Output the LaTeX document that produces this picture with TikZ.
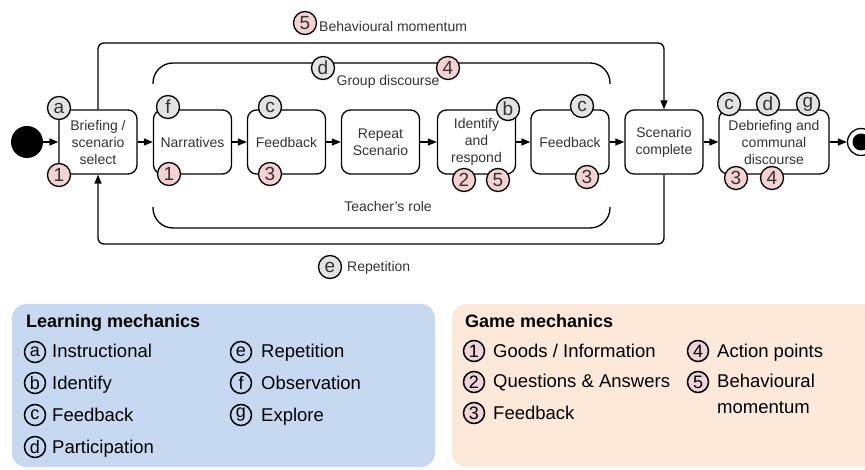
\documentclass[tikz,border=0pt]{standalone}
\usepackage{fontspec}
\setmainfont{Liberation Sans}
\usetikzlibrary{arrows.meta}
\definecolor{inkgray}{HTML}{333333}
\definecolor{badgegray}{HTML}{E3E3E3}
\definecolor{badgepink}{HTML}{F4D2D2}
\definecolor{lmfill}{HTML}{C7D9F1}
\definecolor{gmfill}{HTML}{FDE9DA}
\definecolor{gmbadge}{HTML}{F0D3DA}
\tikzset{
  stepbox/.style={draw, line width=1.3pt, rounded corners=9pt, minimum width=78pt,
    minimum height=64pt, inner sep=2pt, align=center, text=inkgray,
    font=\fontsize{14}{17}\selectfont},
  flow/.style={line width=1.3pt, -{Triangle[length=9pt,width=7pt]}},
  plain/.style={line width=1.3pt},
  badge/.style={circle, draw, line width=1.3pt, minimum size=23pt, inner sep=0pt,
    text=inkgray, font=\fontsize{19}{19}\selectfont},
  lmbadge/.style={badge, fill=badgegray},
  gmbadgestyle/.style={badge, fill=badgepink},
  flowlabel/.style={inner sep=0pt, text=inkgray, font=\fontsize{14}{16}\selectfont},
  keybadge/.style={circle, draw, line width=1.5pt, minimum size=21pt, inner sep=0pt,
    font=\fontsize{18}{18}\selectfont},
  keytext/.style={inner sep=0pt, anchor=base west, align=left, font=\fontsize{18.5}{25}\selectfont},
  keytitle/.style={inner sep=0pt, anchor=base west, font=\fontsize{18}{20}\selectfont\bfseries},
}
\begin{document}
\begin{tikzpicture}[x=1pt, y=-1pt]
\useasboundingbox (0,0) rectangle (865,470);

% activity flow
\node[circle, fill=black, minimum size=32pt, inner sep=0pt] (start) at (27,142) {};
\node[stepbox] (brief) at (98,142) {Briefing /\\scenario\\select};
\node[stepbox] (narr) at (192.5,142) {Narratives};
\node[stepbox] (fb1) at (286.5,142) {Feedback};
\node[stepbox] (rep) at (380.5,142) {Repeat\\Scenario};
\node[stepbox] (ident) at (476.5,142) {Identify\\and\\respond};
\node[stepbox] (fb2) at (570,142) {Feedback};
\node[stepbox] (sc) at (664,142) {Scenario\\complete};
\node[stepbox, minimum width=110pt] (deb) at (774,142) {Debriefing and\\communal\\discourse};
\node[circle, draw, line width=1.3pt, minimum size=27pt, inner sep=0pt] (end) at (861,142) {};
\node[circle, fill=black, minimum size=17pt, inner sep=0pt] (endcore) at (end.center) {};

\draw[flow] (start) -- (brief);
\draw[flow] (brief) -- (narr);
\draw[flow] (narr) -- (fb1);
\draw[flow] (fb1) -- (rep);
\draw[flow] (rep) -- (ident);
\draw[flow] (ident) -- (fb2);
\draw[flow] (fb2) -- (sc);
\draw[flow] (sc) -- (deb);
\draw[flow] (deb) -- (end);

% outer loops
\coordinate (toprow) at (0,43);
\coordinate (botrow) at (0,244);
\draw[flow, rounded corners=6pt] (brief.north) -- (brief.north |- toprow)
  -- (sc.north |- toprow) -- (sc.north);
\draw[flow, rounded corners=6pt] (sc.south) -- (sc.south |- botrow)
  -- (brief.south |- botrow) -- (brief.south);

% brackets around the inner steps
\draw[plain, rounded corners=20pt] (153,84) -- (153,63) -- (610,63) -- (610,84);
\draw[plain, rounded corners=20pt] (153,207) -- (153,228) -- (610,228) -- (610,207);
\node[flowlabel, anchor=base] (grouplbl) at (388,86) {Group discourse};
\node[flowlabel, anchor=base] (teachlbl) at (388,212) {Teacher's role};

% loop labels
\node[gmbadgestyle] (bm5) at (305,23) {5};
\node[flowlabel, anchor=base west] (bmlbl) at (319,32) {Behavioural momentum};
\node[lmbadge] (repe) at (330,267) {e};
\node[flowlabel, anchor=base west] (replbl) at (347,272) {Repetition};
\node[lmbadge] (grpd) at (323,68) {d};
\node[gmbadgestyle] (grp4) at (448,68) {4};

% mechanic badges on the steps
\node[lmbadge] (briefa) at (59,108) {a};
\node[gmbadgestyle] (brief1) at (59,175) {1};
\node[lmbadge] (narrf) at (168,107) {f};
\node[gmbadgestyle] (narr1) at (169,174) {1};
\node[lmbadge] (fbonec) at (270,107) {c};
\node[gmbadgestyle] (fbone3) at (270,174) {3};
\node[lmbadge] (identb) at (508,109) {b};
\node[gmbadgestyle] (ident2) at (464,180) {2};
\node[gmbadgestyle] (ident5) at (498,180) {5};
\node[lmbadge] (fbtwoc) at (582,106) {c};
\node[gmbadgestyle] (fbtwo3) at (587,177) {3};
\node[lmbadge] (debc) at (729,104) {c};
\node[lmbadge] (debd) at (768,104) {d};
\node[lmbadge] (debg) at (808,104) {g};
\node[gmbadgestyle] (deb3) at (736,178) {3};
\node[gmbadgestyle] (deb4) at (772,178) {4};

% key: learning mechanics
\fill[lmfill, rounded corners=14pt] (12,304) rectangle (435,467);
\node[keytitle] (lmtitle) at (26,328) {Learning mechanics};
\node[keybadge] (ka) at (35,352) {a};
\node[keytext] (kat) at (52,358) {Instructional};
\node[keybadge] (kb) at (35,383) {b};
\node[keytext] (kbt) at (52,389) {Identify};
\node[keybadge] (kc) at (35,415) {c};
\node[keytext] (kct) at (52,421) {Feedback};
\node[keybadge] (kd) at (35,447) {d};
\node[keytext] (kdt) at (52,453) {Participation};
\node[keybadge] (ke) at (241,352) {e};
\node[keytext] (ket) at (261,358) {Repetition};
\node[keybadge] (kf) at (241,383) {f};
\node[keytext] (kft) at (261,389) {Observation};
\node[keybadge] (kg) at (241,415) {g};
\node[keytext] (kgt) at (261,421) {Explore};

% key: game mechanics
\fill[gmfill, rounded corners=14pt] (452,304) rectangle (885,467);
\node[keytitle] (gmtitle) at (465,327) {Game mechanics};
\node[keybadge, fill=gmbadge] (k1) at (474,351) {1};
\node[keytext] (k1t) at (493,357) {Goods / Information};
\node[keybadge, fill=gmbadge] (k2) at (474,382) {2};
\node[keytext] (k2t) at (493,388) {Questions \& Answers};
\node[keybadge, fill=gmbadge] (k3) at (474,413) {3};
\node[keytext] (k3t) at (493,419) {Feedback};
\node[keybadge, fill=gmbadge] (k4) at (698,351) {4};
\node[keytext] (k4t) at (717,357) {Action points};
\node[keybadge, fill=gmbadge] (k5) at (698,382) {5};
\node[keytext] (k5t) at (717,413) {Behavioural\\momentum};
\end{tikzpicture}
\end{document}
